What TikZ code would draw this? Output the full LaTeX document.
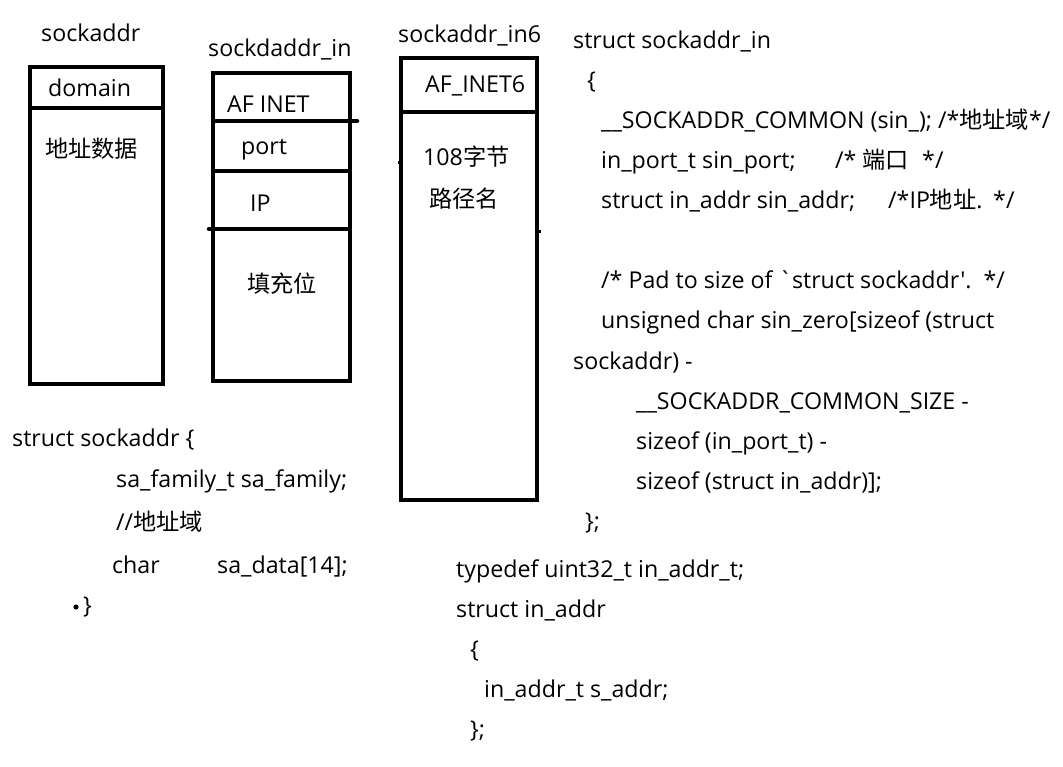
\documentclass[tikz,border=0pt]{standalone}
\usepackage{fontspec}
\setmainfont{Open Sans}[Ligatures=TeXOff]
\newfontfamily\cjk{Noto Sans CJK SC}
\newcommand{\zh}[1]{{\cjk #1}}
\tikzset{
  boxline/.style={line width=4.5pt, line join=miter},
  divline/.style={line width=4.5pt, line cap=round},
  txt/.style={anchor=base west, inner sep=0pt, font=\fontsize{23.2}{28}\selectfont},
}
\begin{document}
\begin{tikzpicture}[x=1pt,y=-1pt]
\useasboundingbox[fill=white] (0,0) rectangle (1063,767);
% ---------- box 1: sockaddr
\node[txt] (t1) at (41,42) {sockaddr};
\draw[boxline] (30,67) rectangle (163,384);
\draw[boxline] (32,108) -- (161,108);
\node[txt] (b1a) at (48,97) {domain};
\node[txt] (b1b) at (45,158) {\zh{地址数据}};
% ---------- box 2: sockdaddr_in
\node[txt] (t2) at (208,57) {sockdaddr\_in};
\draw[boxline] (213,73) rectangle (350,381);
\draw[divline] (215,121) -- (357,121);
\draw[boxline] (215,171) -- (348,171);
\draw[divline] (209,229) -- (348,229);
\node[txt] (b2a) at (227,113) {AF INET};
\node[txt] (b2b) at (241,155) {port};
\node[txt] (b2c) at (250,212) {IP};
\node[txt] (b2d) at (247,293) {\zh{填充位}};
% ---------- box 3: sockaddr_in6
\node[txt] (t3) at (398,43) {sockaddr\_in6};
\draw[boxline] (401,58) rectangle (537,500);
\draw[boxline] (403,112) -- (535,112);
\draw[line width=3pt] (398,163) -- (401,163);
\draw[line width=3pt] (537,232) -- (541,232);
\node[txt] (b3a) at (425,93) {AF\_INET6};
\node[txt] (b3b) at (423,166) {108\zh{字节}};
\node[txt] (b3c) at (429,208) {\zh{路径名}};
% ---------- code: struct sockaddr_in
\node[txt] (c1) at (573,49) {struct sockaddr\_in};
\node[txt] (c2) at (587,89) {\{};
\node[txt] (c3) at (601,129) {\_\_SOCKADDR\_COMMON (sin\_); /*\zh{地址域}*/};
\node[txt] (c4) at (601,169) {in\_port\_t sin\_port;};
\node[txt] (c4b) at (835,169) {/*};
\node[txt] (c4c) at (862,169) {\zh{端口}};
\node[txt] (c4d) at (922,169) {*/};
\node[txt] (c5) at (601,209) {struct in\_addr sin\_addr;};
\node[txt] (c5b) at (888,209) {/*IP\zh{地址}.};
\node[txt] (c5c) at (993,209) {*/};
\node[txt] (c6) at (601,289) {/* Pad to size of `struct sockaddr'.\ \ */};
\node[txt] (c7) at (601,329) {unsigned char sin\_zero[sizeof (struct};
\node[txt] (c8) at (573,369) {sockaddr) -};
\node[txt] (c9) at (636,409) {\_\_SOCKADDR\_COMMON\_SIZE -};
\node[txt] (c10) at (636,449) {sizeof (in\_port\_t) -};
\node[txt] (c11) at (636,489) {sizeof (struct in\_addr)];};
\node[txt] (c12) at (585,529) {\};};
% ---------- code: struct sockaddr
\node[txt] (s1) at (12,446) {struct sockaddr \{};
\node[txt] (s2) at (116,487) {sa\_family\_t sa\_family;};
\node[txt] (s3) at (116,530) {//\zh{地址域}};
\node[txt] (s4) at (112,573) {char};
\node[txt] (s4b) at (217,573) {sa\_data[14];};
\fill (76,607) circle (2.6);
\node[txt] (s5) at (83,613) {\}};
% ---------- code: struct in_addr
\node[txt] (a1) at (456,577) {typedef uint32\_t in\_addr\_t;};
\node[txt] (a2) at (456,617) {struct in\_addr};
\node[txt] (a3) at (470,657) {\{};
\node[txt] (a4) at (484,697) {in\_addr\_t s\_addr;};
\node[txt] (a5) at (470,737) {\};};
\end{tikzpicture}
\end{document}
